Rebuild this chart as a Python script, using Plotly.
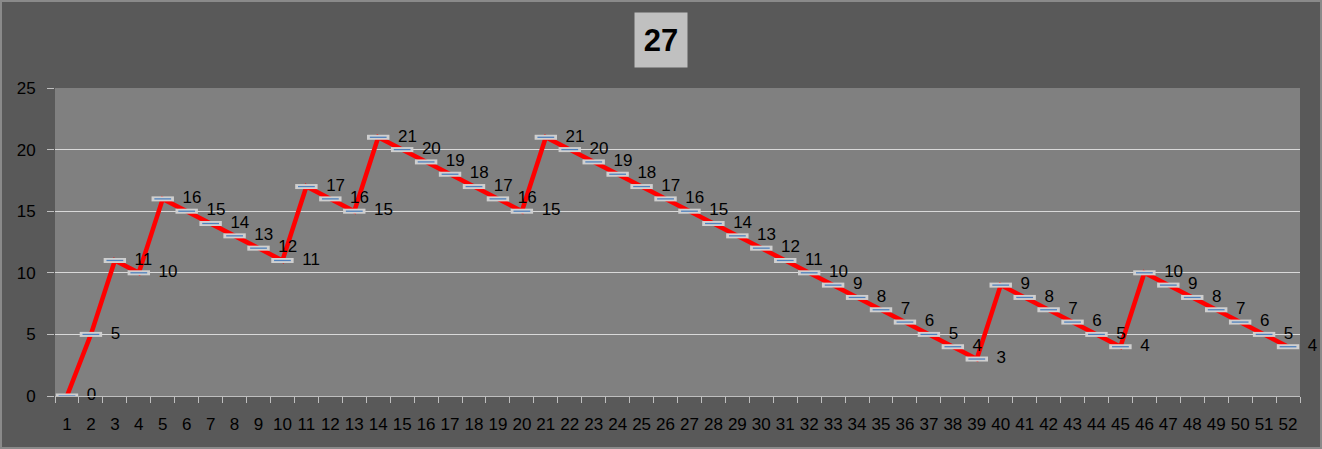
import plotly.graph_objects as go

categories = [str(i) for i in range(1, 53)]
values = [0, 5, 11, 10, 16, 15, 14, 13, 12, 11, 17, 16, 15, 21, 20, 19, 18, 17, 16, 15,
          21, 20, 19, 18, 17, 16, 15, 14, 13, 12, 11, 10, 9, 8, 7, 6, 5, 4, 3,
          9, 8, 7, 6, 5, 4, 10, 9, 8, 7, 6, 5, 4]
title_text = "27"
y_ticks = [0, 5, 10, 15, 20, 25]

W, H = 1322, 449
ml, mr, mt, mb = 55, 22, 88, 53
pw, ph = W - ml - mr, H - mt - mb
FONT = "Liberation Sans, Arial, sans-serif"

fig = go.Figure()
fig.add_trace(go.Scatter(
    x=categories, y=values, mode="lines",
    line=dict(color="#ff0000", width=4.5), hoverinfo="skip", showlegend=False))
fig.add_trace(go.Scatter(
    x=categories, y=values, mode="markers",
    marker=dict(symbol="line-ew-open", size=16, color="#cfcfcf", line=dict(color="#cfcfcf", width=5)),
    hoverinfo="skip", showlegend=False))
fig.add_trace(go.Scatter(
    x=categories, y=values, mode="markers",
    marker=dict(symbol="line-ew-open", size=12, color="#4f81bd", line=dict(color="#4f81bd", width=1.3)),
    hoverinfo="skip", showlegend=False))
fig.add_trace(go.Scatter(
    x=categories, y=values, mode="markers+text",
    marker=dict(size=30, color="rgba(0,0,0,0)", line=dict(width=0)),
    text=[str(v) for v in values], textposition="middle right",
    textfont=dict(family=FONT, size=17, color="#000000"), cliponaxis=False,
    hoverinfo="skip", showlegend=False))

fig.update_layout(
    width=W, height=H,
    margin=dict(l=ml, r=mr, t=mt, b=mb),
    paper_bgcolor="#595959", plot_bgcolor="#808080",
    font=dict(family=FONT, size=17, color="#000000"),
    xaxis=dict(type="category", showgrid=False, tickson="boundaries",
               ticks="outside", ticklen=6, tickcolor="#bfbfbf", tickangle=0,
               ticklabelstandoff=13,
               showline=True, linecolor="#bfbfbf", linewidth=1,
               tickfont=dict(family=FONT, size=17, color="#000000"), range=[-0.5, 51.5]),
    yaxis=dict(range=[0, 25], tickvals=y_ticks, showgrid=True, gridcolor="#d9d9d9",
               gridwidth=1, zeroline=False, ticks="outside", ticklen=7, tickcolor="#bfbfbf",
               ticklabelstandoff=8,
               showline=False, tickfont=dict(family=FONT, size=17, color="#000000")),
    annotations=[dict(text="<b>" + title_text + "</b>", xref="paper", yref="paper",
                      x=(661 - ml) / pw, y=1 + (mt - 40) / ph, xanchor="center", yanchor="middle",
                      showarrow=False, font=dict(family=FONT, size=31, color="#000000"),
                      bgcolor="#c0c0c0", width=50, height=52)],
    shapes=[dict(type="rect", xref="paper", yref="paper",
                 x0=-(ml - 1) / pw, x1=1 + (mr - 1) / pw,
                 y0=-(mb - 1) / ph, y1=1 + (mt - 1) / ph,
                 line=dict(color="#8a8a8a", width=2), layer="below")],
)
fig.write_html("out.html", config={"displayModeBar": False},
               post_script="document.body.style.margin='0';document.body.style.padding='0';")
